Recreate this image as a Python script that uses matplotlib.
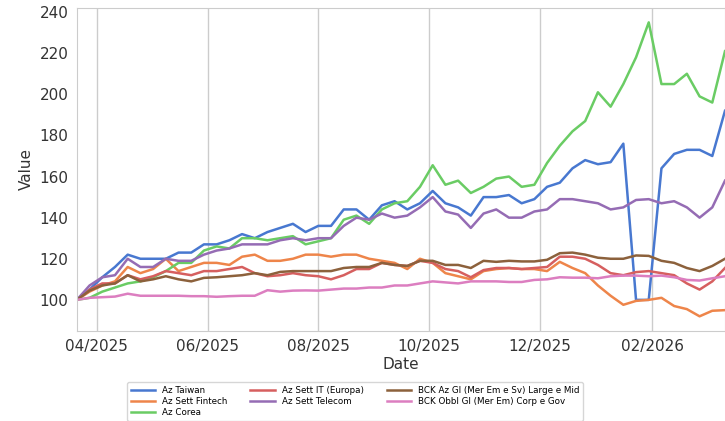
import matplotlib
matplotlib.use("Agg")
import matplotlib.pyplot as plt
import matplotlib.dates as mdates
import pandas as pd

dates = pd.date_range("2025-03-21", periods=52, freq="7D")

taiwan = [100,105,111,116,122,120,120,120,123,123,127,127,129,132,130,133,135,137,
          133,136,136,144,144,139,146,148,144,147,153,147,145,141,150,150,151,147,149,155,
          157,164,168,166,167,176,100,100,164,171,173,173,170,192]
fintech = [100,104,107,109,116,113,115,120,114,116,118,118,117,121,122,119,119,120,
           122,122,121,122,122,120,119,118,115,120,118,113,111.5,110,114,115,115.5,115,115,114,
           118.5,115.5,113,107,102,97.6,99.5,100,101,97,95.5,92,94.7,95]
corea = [100,101,104,106,108,109,111,114,118,118,124,126,125,130,130,129,130,131,
         127,128.5,130,139,141,137,144,147,148,155,165.5,156,158,152,155,159,160,155,156,166.6,
         175,182,187,201,194,205,218,235,205,205,210,199,196,221]
it_europa = [100,105,108,108,112,110,111.5,114,113,112,114,114,115,116,113,111.5,112,113,
             112,111.5,110,112,115,115,118,117,116.5,119,118,115,114,111,114.5,115.5,115.5,115,115.5,116,
             121,121,120,117,113,112,113.5,114,113,112,108,105,109,115.5]
telecom = [100,107,111,112,120,116,116,120,119,119,122,124,125,127,127,127,129,130,
           129,130,130,136,140,139,142,140,141,145,150,143,141.5,135,142,144,140,140,143,144,
           149,149,148,147,144,145,148.6,149,147,148,145,140,145,158]
bck_az = [100,104.5,107,108,112,109,110,111.5,110,109,110.7,111,111.5,112,113,112,113.6,114,
          114,114,114,115.5,116,116,118,117,116.5,119,119,117,117,115.5,119,118.5,119,118.7,118.7,119.5,
          122.7,123,122,120.5,120,120,121.6,121.4,119,118,115.5,114,116.5,120]
bck_obbl = [100,101,101.3,101.6,103,102,102,102,102,101.8,101.8,101.5,101.8,102,102,104.7,104,104.5,
            104.6,104.5,105,105.5,105.5,106,106,107,107,108,109,108.5,108,109,109,109,108.7,108.7,109.7,110,
            111,110.8,110.8,110.5,111.5,111.8,111.8,111.5,111.8,111,109.7,109.4,110.5,111.5]

series = [("Az Taiwan", taiwan, "#4878d0"),
          ("Az Sett Fintech", fintech, "#ee854a"),
          ("Az Corea", corea, "#6acc64"),
          ("Az Sett IT (Europa)", it_europa, "#d65f5f"),
          ("Az Sett Telecom", telecom, "#956cb4"),
          ("BCK Az Gl (Mer Em e Sv) Large e Mid", bck_az, "#8c613c"),
          ("BCK Obbl Gl (Mer Em) Corp e Gov", bck_obbl, "#dc7ec0")]

fig = plt.figure(figsize=(7.25, 4.21), dpi=100)
ax = fig.add_axes([0.106, 0.214, 0.894, 0.767])
for name, vals, c in series:
    ax.plot(dates, vals, color=c, lw=1.8, label=name)

ax.set_xlim(dates[0], dates[-1])
ax.set_ylim(84.9, 242)
ax.set_yticks(range(100, 241, 20))
ax.xaxis.set_major_locator(mdates.MonthLocator(bymonth=[2,4,6,8,10,12]))
ax.xaxis.set_major_formatter(mdates.DateFormatter("%m/%Y"))
ax.grid(axis="x", color="#cccccc", lw=1)
ax.grid(axis="y", visible=False)
for s in ax.spines.values():
    s.set_color("#cccccc")
ax.tick_params(length=0, labelsize=11, colors="#333333", pad=6)
ax.set_xlabel("Date", fontsize=11, color="#333333", labelpad=2)
ax.set_ylabel("Value", fontsize=11, color="#333333")
fig.legend(loc="lower center", bbox_to_anchor=(0.49, -0.01), ncol=3, fontsize=6.3,
           frameon=True, edgecolor="#cccccc", handlelength=2.8, columnspacing=2.6,
           borderpad=0.4, labelspacing=0.25)
fig.savefig("out.png", dpi=100)
